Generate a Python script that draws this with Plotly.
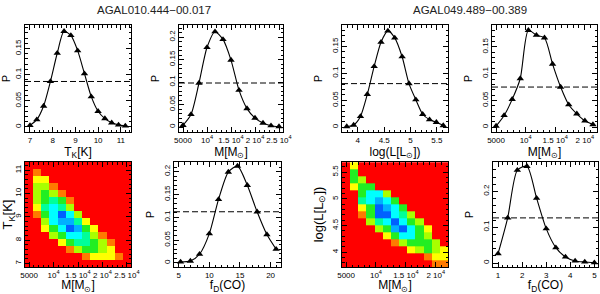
import plotly.graph_objects as go

W, H = 600, 294

# ---------------- data ----------------
titles = ["AGAL010.444\u221200.017", "AGAL049.489\u221200.389"]

# AGAL010.444-00.017
tk_x = [7.0, 7.3, 7.6, 7.9, 8.2, 8.5, 8.8, 9.1, 9.4, 9.7, 10.0, 10.3, 10.6, 10.9, 11.2]
tk_p = [0.003, 0.014, 0.040, 0.087, 0.141, 0.183, 0.175, 0.146, 0.102, 0.058, 0.030, 0.016, 0.008, 0.004, 0.002]
m1_x = [5000, 6667, 8333, 10000, 11667, 13333, 15000, 16667, 18333, 20000, 21667, 23333, 25000]
m1_p = [0.004, 0.028, 0.098, 0.177, 0.212, 0.195, 0.149, 0.082, 0.041, 0.020, 0.009, 0.003, 0.001]
fd1_x = [5.3, 6.9, 8.4, 10.0, 11.5, 13.1, 14.6, 16.2, 17.8, 19.4, 20.9]
fd1_p = [0.002, 0.004, 0.019, 0.064, 0.139, 0.199, 0.212, 0.170, 0.112, 0.062, 0.030]

# AGAL049.489-00.389
lum_x = [3.79, 3.92, 4.05, 4.18, 4.31, 4.44, 4.57, 4.70, 4.84, 4.97, 5.10, 5.23, 5.36, 5.49, 5.62]
lum_p = [0.001, 0.004, 0.020, 0.061, 0.113, 0.158, 0.179, 0.166, 0.131, 0.081, 0.051, 0.024, 0.014, 0.009, 0.003]
m2_x = [5000, 6364, 7727, 9091, 10455, 11818, 13182, 14545, 15909, 17273, 18636, 20000, 21364]
m2_p = [0.002, 0.022, 0.052, 0.091, 0.181, 0.172, 0.167, 0.118, 0.075, 0.042, 0.025, 0.012, 0.005]
fd2_x = [1.0, 1.4, 1.8, 2.2, 2.6, 3.0, 3.4, 3.8, 4.2, 4.6, 5.0]
fd2_p = [0.026, 0.126, 0.259, 0.270, 0.181, 0.096, 0.043, 0.017, 0.006, 0.003, 0.001]

# dashed reference levels per 1-D panel
dash_levels = {"tk": 0.087, "m1": 0.098, "fd1": 0.112, "lum": 0.081, "m2": 0.075, "fd2": 0.126}

# 2-D probability maps (level 0..8), rows listed from top (highest y) to bottom
map1_rows_top_down = [
    [0, 0, 0, 0, 0, 0, 0, 0, 0, 0, 0, 0, 0],
    [0, 1, 0, 0, 0, 0, 0, 0, 0, 0, 0, 0, 0],
    [0, 2, 2, 0, 0, 0, 0, 0, 0, 0, 0, 0, 0],
    [0, 3, 3, 1, 0, 0, 0, 0, 0, 0, 0, 0, 0],
    [0, 3, 4, 3, 1, 0, 0, 0, 0, 0, 0, 0, 0],
    [0, 3, 4, 5, 4, 1, 0, 0, 0, 0, 0, 0, 0],
    [0, 2, 5, 6, 5, 3, 0, 0, 0, 0, 0, 0, 0],
    [0, 1, 4, 6, 8, 6, 3, 0, 0, 0, 0, 0, 0],
    [0, 0, 3, 6, 7, 7, 5, 2, 0, 0, 0, 0, 0],
    [0, 0, 2, 4, 6, 8, 7, 4, 2, 0, 0, 0, 0],
    [0, 0, 0, 3, 4, 6, 6, 5, 3, 1, 0, 0, 0],
    [0, 0, 0, 0, 2, 4, 5, 5, 4, 3, 1, 0, 0],
    [0, 0, 0, 0, 0, 1, 3, 4, 4, 3, 2, 0, 0],
    [0, 0, 0, 0, 0, 0, 0, 1, 2, 2, 2, 1, 0],
    [0, 0, 0, 0, 0, 0, 0, 0, 0, 0, 0, 0, 0],
]
map2_rows_top_down = [
    [0, 2, 0, 0, 0, 0, 0, 0, 0, 0, 0, 0, 0],
    [0, 4, 0, 0, 0, 0, 0, 0, 0, 0, 0, 0, 0],
    [0, 4, 3, 0, 0, 0, 0, 0, 0, 0, 0, 0, 0],
    [0, 2, 4, 4, 0, 0, 0, 0, 0, 0, 0, 0, 0],
    [0, 0, 4, 6, 6, 3, 0, 0, 0, 0, 0, 0, 0],
    [0, 0, 5, 6, 7, 6, 4, 0, 0, 0, 0, 0, 0],
    [0, 0, 2, 4, 8, 7, 6, 4, 0, 0, 0, 0, 0],
    [0, 0, 1, 4, 8, 8, 6, 5, 3, 0, 0, 0, 0],
    [0, 0, 0, 3, 5, 6, 8, 6, 4, 3, 0, 0, 0],
    [0, 0, 0, 0, 3, 4, 7, 8, 6, 4, 2, 0, 0],
    [0, 0, 0, 0, 0, 2, 4, 6, 6, 4, 3, 0, 0],
    [0, 0, 0, 0, 0, 0, 1, 3, 4, 4, 4, 3, 0],
    [0, 0, 0, 0, 0, 0, 0, 0, 2, 3, 4, 3, 2],
    [0, 0, 0, 0, 0, 0, 0, 0, 0, 0, 1, 2, 2],
    [0, 0, 0, 0, 0, 0, 0, 0, 0, 0, 0, 1, 1],
]

m_ticks1 = [5000, 10000, 15000, 20000, 25000]
m_ticks2 = [5000, 10000, 15000, 20000]
m_labels = ["5000", "10<sup>4</sup>", "1.5 10<sup>4</sup>", "2 10<sup>4</sup>", "2.5 10<sup>4</sup>"]

colorscale = [
    [0.0, "#ff0000"], [0.125, "#ff7a00"], [0.25, "#ffff00"], [0.375, "#a8ff00"],
    [0.5, "#22ee22"], [0.625, "#00ff99"], [0.75, "#00ffff"], [0.875, "#00b0ff"], [1.0, "#0060ff"],
]

# ---------------- layout helpers ----------------
FONT = "Liberation Sans, Arial, sans-serif"
TICKF = dict(size=8, family=FONT, color="black")
XTITF = dict(size=12, family=FONT, color="black")
PTITF = dict(size=10.5, family=FONT, color="black")
MAPYF = dict(size=13, family=FONT, color="black")

# panel boxes in pixels: x0, x1, y0(top), y1(bottom)
boxes = {
    1: (25, 131, 25, 132), 2: (179, 283, 25, 132), 3: (342, 448, 25, 132), 4: (492, 597, 25, 132),
    5: (25, 131, 162, 267), 6: (174, 281, 162, 267), 7: (342, 448, 162, 267), 8: (493, 598, 162, 267),
}

fig = go.Figure()


def sfx(i):
    return "" if i == 1 else str(i)


def axis_common():
    return dict(showline=True, linecolor="black", linewidth=1, mirror="allticks",
                ticks="inside", ticklen=5, tickwidth=1, tickcolor="black",
                showgrid=False, zeroline=False, tickfont=TICKF, automargin=False)


def set_axes(i, xr, yr, xt, yt, xdt=None, xminor=None, ydt=None, yminor=None,
             xtickvals=None, xticktext=None, ytfont=PTITF, ystand=6):
    x0, x1, y0, y1 = boxes[i]
    s = sfx(i)
    xa = axis_common()
    xa.update(domain=[x0 / W, x1 / W], range=xr, anchor=f"y{s}", tickangle=0,
              title=dict(text=xt, font=XTITF, standoff=1),
              minor=dict(ticks="inside", ticklen=2.5, tickcolor="black", dtick=xminor, showgrid=False))
    if xtickvals is not None:
        xa.update(tickmode="array", tickvals=xtickvals, ticktext=xticktext)
    else:
        xa.update(dtick=xdt, tick0=0)
    ya = axis_common()
    ya.update(domain=[1 - y1 / H, 1 - y0 / H], range=yr, anchor=f"x{s}", tickangle=-90,
              title=dict(text=yt, font=ytfont, standoff=ystand),
              minor=dict(ticks="inside", ticklen=2.5, tickcolor="black", dtick=yminor, showgrid=False),
              dtick=ydt, tick0=0)
    fig.update_layout(**{f"xaxis{s}": xa, f"yaxis{s}": ya})


def curve(i, xs, ps, level):
    s = sfx(i)
    fig.add_trace(go.Scatter(x=xs, y=ps, mode="lines+markers", xaxis=f"x{s}", yaxis=f"y{s}",
                             line=dict(color="black", width=1.1, shape="spline", smoothing=0.7),
                             marker=dict(symbol="triangle-up", size=6.5, color="black")))
    fig.add_shape(type="line", xref=f"x{s} domain", yref=f"y{s}", x0=0, x1=1, y0=level, y1=level,
                  line=dict(color="black", width=1, dash="6px,3px"))


def heat(i, xs, ys, rows_top_down):
    s = sfx(i)
    fig.add_trace(go.Heatmap(x=xs, y=ys, z=rows_top_down[::-1], xaxis=f"x{s}", yaxis=f"y{s}",
                             colorscale=colorscale, zmin=0, zmax=8, showscale=False,
                             hoverinfo="skip"))


M_T = "M[M<sub>\u2299</sub>]"
TK_T = "T<sub>K</sub>[K]"
L_T = "log(L[L<sub>\u2299</sub>])"
FD_T = "f<sub>D</sub>(CO)"

# panel 1: T_K
curve(1, tk_x, tk_p, dash_levels["tk"])
set_axes(1, [6.78, 11.45], [-0.0096, 0.195], TK_T, "P", xdt=1, xminor=0.2, ydt=0.05, yminor=0.01)
# panel 2: M
curve(2, m1_x, m1_p, dash_levels["m1"])
set_axes(2, [4167, 25833], [-0.011, 0.227], M_T, "P", xminor=1000, ydt=0.05, yminor=0.01,
         xtickvals=m_ticks1, xticktext=m_labels)
# panel 3: log L
curve(3, lum_x, lum_p, dash_levels["lum"])
set_axes(3, [3.70, 5.71], [-0.009, 0.19], L_T, "P", xdt=0.5, xminor=0.1, ydt=0.05, yminor=0.01)
# panel 4: M
curve(4, m2_x, m2_p, dash_levels["m2"])
set_axes(4, [4318, 22046], [-0.009, 0.191], M_T, "P", xminor=1000, ydt=0.05, yminor=0.01,
         xtickvals=m_ticks2, xticktext=m_labels[:4])
# panel 5: map M vs T_K
heat(5, m1_x, tk_x, map1_rows_top_down)
set_axes(5, [4167, 25833], [6.85, 11.35], M_T, TK_T, xminor=1000, ydt=1, yminor=0.2,
         xtickvals=m_ticks1, xticktext=m_labels, ytfont=MAPYF, ystand=4)
# panel 6: f_D
curve(6, fd1_x, fd1_p, dash_levels["fd1"])
set_axes(6, [4.23, 21.7], [-0.009, 0.221], FD_T, "P", xdt=5, xminor=1, ydt=0.05, yminor=0.01)
# panel 7: map M vs log L
heat(7, m2_x, lum_x, map2_rows_top_down)
set_axes(7, [4318, 22046], [3.725, 5.69], M_T, L_T, xminor=1000, ydt=0.5, yminor=0.1,
         xtickvals=m_ticks2, xticktext=m_labels[:4], ytfont=MAPYF, ystand=4)
# panel 8: f_D
curve(8, fd2_x, fd2_p, dash_levels["fd2"])
set_axes(8, [0.79, 5.15], [-0.011, 0.282], FD_T, "P", xdt=1, xminor=0.2, ydt=0.1, yminor=0.02)

for txt, xc in zip(titles, [154, 470]):
    fig.add_annotation(text=txt, x=xc / W, y=1 - 10 / H, xref="paper", yref="paper",
                       xanchor="center", yanchor="middle", showarrow=False,
                       font=dict(size=11.5, family=FONT, color="#222"))

fig.update_layout(width=W, height=H, margin=dict(l=0, r=0, t=0, b=0),
                  paper_bgcolor="white", plot_bgcolor="white", showlegend=False,
                  font=dict(family=FONT, color="black"))

fig.write_html("out.html", config={"displayModeBar": False},
               post_script="document.body.style.margin='0px';document.body.style.overflow='hidden';")
